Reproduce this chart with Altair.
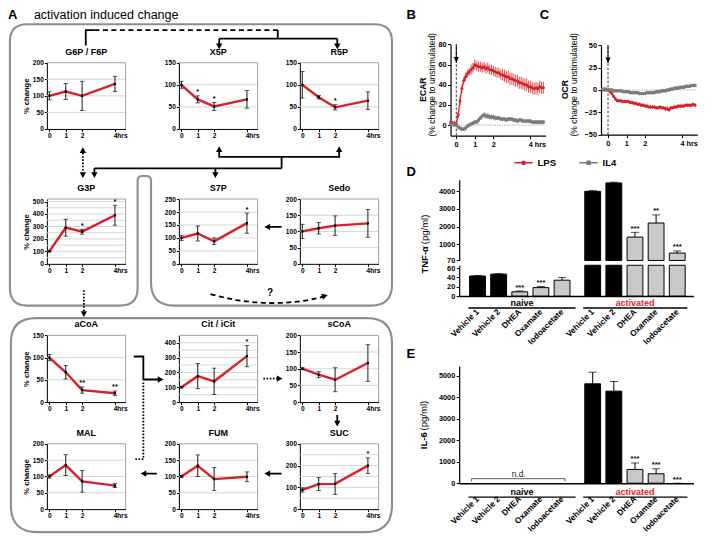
import json
import math
import altair as alt
import pandas as pd

# ============================================================ DATA
HOURS = [0, 1, 2, 4]

G6P_MEAN = [100, 113, 100, 136]
G6P_ERR = [12, 24, 44, 23]
G6P_SIG = ["", "", "", ""]
X5P_MEAN = [100, 67, 51, 67]
X5P_ERR = [8, 8, 9, 20]
X5P_SIG = ["", "*", "*", ""]
R5P_MEAN = [100, 72, 49, 64]
R5P_ERR = [30, 4, 6, 20]
R5P_SIG = ["", "", "*", ""]
G3P_MEAN = [100, 290, 258, 390]
G3P_ERR = [5, 68, 20, 80]
G3P_SIG = ["", "", "*", "*"]
S7P_MEAN = [100, 117, 87, 157]
S7P_ERR = [10, 29, 13, 39]
S7P_SIG = ["", "", "", "*"]
SEDO_MEAN = [100, 110, 118, 125]
SEDO_ERR = [22, 18, 30, 43]
SEDO_SIG = ["", "", "", ""]
ACOA_MEAN = [100, 67, 27, 20]
ACOA_ERR = [7, 15, 7, 5]
ACOA_SIG = ["", "", "**", "**"]
CIT_MEAN = [100, 175, 140, 310]
CIT_ERR = [5, 85, 89, 72]
CIT_SIG = ["", "", "", "*"]
SCOA_MEAN = [100, 82, 67, 117]
SCOA_ERR = [3, 9, 36, 55]
SCOA_SIG = ["", "", "", ""]
MAL_MEAN = [100, 135, 85, 72]
MAL_ERR = [5, 32, 33, 6]
MAL_SIG = ["", "", "", ""]
FUM_MEAN = [100, 133, 92, 99]
FUM_ERR = [3, 33, 35, 15]
FUM_SIG = ["", "", "", ""]
SUC_MEAN = [88, 115, 116, 200]
SUC_ERR = [10, 30, 48, 36]
SUC_SIG = ["", "", "", "*"]

A_PANELS = [
    ("G6P / F6P", G6P_MEAN, G6P_ERR, G6P_SIG, 200, [0, 50, 100, 150, 200]),
    ("X5P", X5P_MEAN, X5P_ERR, X5P_SIG, 150, [0, 50, 100, 150]),
    ("R5P", R5P_MEAN, R5P_ERR, R5P_SIG, 150, [0, 50, 100, 150]),
    ("G3P", G3P_MEAN, G3P_ERR, G3P_SIG, 520, [0, 100, 200, 300, 400, 500]),
    ("S7P", S7P_MEAN, S7P_ERR, S7P_SIG, 250, [0, 50, 100, 150, 200, 250]),
    ("Sedo", SEDO_MEAN, SEDO_ERR, SEDO_SIG, 200, [0, 50, 100, 150, 200]),
    ("aCoA", ACOA_MEAN, ACOA_ERR, ACOA_SIG, 150, [0, 50, 100, 150]),
    ("Cit / iCit", CIT_MEAN, CIT_ERR, CIT_SIG, 450, [0, 100, 200, 300, 400]),
    ("sCoA", SCOA_MEAN, SCOA_ERR, SCOA_SIG, 200, [0, 50, 100, 150, 200]),
    ("MAL", MAL_MEAN, MAL_ERR, MAL_SIG, 200, [0, 50, 100, 150, 200]),
    ("FUM", FUM_MEAN, FUM_ERR, FUM_SIG, 200, [0, 50, 100, 150, 200]),
    ("SUC", SUC_MEAN, SUC_ERR, SUC_SIG, 300, [0, 100, 200, 300]),
]

SEA_TIME = [-0.3, -0.2, -0.1, 0.0, 0.1, 0.2, 0.3, 0.4, 0.5, 0.6,
            0.7, 0.8, 0.9, 1.0, 1.1, 1.2, 1.3, 1.4, 1.5, 1.6,
            1.7, 1.8, 1.9, 2.0, 2.1, 2.2, 2.3, 2.4, 2.5, 2.6,
            2.7, 2.8, 2.9, 3.0, 3.1, 3.2, 3.3, 3.4, 3.5, 3.6,
            3.7, 3.8, 3.9, 4.0, 4.1, 4.2, 4.3, 4.4, 4.5, 4.6,
            4.7]
ECAR_LPS = [3, 2, 2, 1, 10, 24, 36, 44, 48, 51,
            53, 55, 57, 60, 59, 58, 58, 57, 58, 56,
            57, 55, 55, 54, 53, 52, 52, 50, 50, 49,
            48, 48, 46, 46, 45, 44, 44, 42, 42, 41,
            40, 40, 38, 38, 37, 36, 37, 36, 38, 37,
            37]
ECAR_LPS_ERR = [2, 2, 2, 2, 3, 4, 4, 4, 4, 4,
                4, 5, 5, 5, 5, 5, 5, 5, 5, 5,
                5, 5, 5, 5, 5, 5, 5, 5, 6, 6,
                6, 6, 6, 6, 6, 6, 6, 6, 6, 6,
                6, 6, 6, 6, 6, 6, 6, 6, 6, 6,
                6]
ECAR_IL4 = [1, 1, 0, 0, -2, -3, -4, -4, -3, -1,
            0, 1, 2, 3, 3, 5, 7, 9, 10, 9,
            9, 8, 8, 8, 7, 7, 7, 6, 6, 6,
            5, 6, 6, 6, 5, 5, 4, 5, 5, 4,
            4, 4, 4, 4, 3, 3, 3, 3, 3, 3,
            3]
ECAR_IL4_ERR = [1.5, 1.5, 1.5, 1.5, 2, 2, 2, 2, 2, 2,
                2, 2, 2, 2, 2, 2, 2, 2, 3, 3,
                3, 2.5, 2.5, 2.5, 2.5, 2, 2, 2, 2, 2,
                2, 2, 2, 2, 2, 2, 2, 2, 2, 2,
                2, 2, 2, 2, 2, 2, 2, 2, 2, 2,
                2]
OCR_LPS = [0, 0, 0, 0, -2, -4, -7, -10, -12, -12,
           -12, -13, -13, -13, -13, -14, -14, -15, -15, -16,
           -16, -17, -17, -18, -18, -19, -19, -19, -19, -20,
           -20, -19, -20, -20, -21, -21, -22, -20, -20, -19,
           -19, -18, -18, -18, -18, -17, -17, -17, -17, -16,
           -17]
OCR_LPS_ERR = [1.5, 1.5, 1.5, 1.5, 1.5, 2, 2, 2, 2, 2,
               2, 2, 2, 2, 2, 2, 2, 2, 2, 2,
               2, 2, 2, 2, 2, 2, 2, 2, 2, 2,
               2, 2, 2, 2, 2.5, 2.5, 2.5, 2, 2, 2,
               2, 2, 2, 2, 2, 2, 2, 2, 2, 2,
               2]
OCR_IL4 = [1, 1, 1, 0, 0, 0, -1, -1, -1, -1,
           -1, -2, -2, -2, -2, -3, -3, -3, -3, -3,
           -4, -4, -4, -4, -3, -3, -3, -3, -3, -2,
           -2, -2, -1, -1, -1, 0, 0, 1, 1, 2,
           2, 2, 3, 3, 3, 4, 4, 4, 5, 5,
           5]
OCR_IL4_ERR = [1.5, 1.5, 1.5, 1.5, 1.5, 1.5, 1.5, 1.5, 1.5, 1.5,
               1.5, 1.5, 1.5, 1.5, 2, 2, 2, 2, 2, 2,
               2, 2, 2, 2, 2, 2, 2, 2, 2, 2,
               2, 2, 2, 2, 2, 2, 2, 2, 2, 2,
               2, 2, 2, 2, 2, 2, 2, 2, 2, 2,
               2]
for _s in (ECAR_LPS, ECAR_LPS_ERR, ECAR_IL4, ECAR_IL4_ERR, OCR_LPS, OCR_LPS_ERR, OCR_IL4, OCR_IL4_ERR):
    assert len(_s) == len(SEA_TIME)

TREATMENTS = ["Vehicle 1", "Vehicle 2", "DHEA", "Oxamate", "Iodoacetate"]
GROUPS = ["naive", "activated"]
TNF_NAIVE = [43, 47, 9, 18, 34]
TNF_NAIVE_ERR = [1, 1, 1.5, 2.5, 6]
TNF_NAIVE_SIG = ["", "", "***", "***", ""]
TNF_ACT = [4000, 4480, 1400, 2200, 490]
TNF_ACT_ERR = [40, 40, 270, 460, 120]
TNF_ACT_SIG = ["", "", "***", "**", "***"]
IL6_NAIVE = [None, None, None, None, None]   # n.d.
IL6_ACT = [4620, 4280, 640, 440, 0]
IL6_ACT_ERR = [540, 450, 300, 230, 0]
IL6_ACT_SIG = ["", "", "***", "***", "***"]

# ============================================================ LAYOUT
S = 0.96
W, H = 694, 534


def cx(X):
    return (X - 2.0) * S


def cy(Y):
    return (Y - 3.0) * S


ONE = pd.DataFrame({"k": [0]})
RED_A = "#d7202a"
RED_B = "#d42229"
GRAY_B = "#7b7b7b"
GRID_C = "#d3d3d3"
FRAME_C = "#8a8a8a"
BOX_C = "#8e8e8e"
ACT_RED = "#e3222b"

A_COLS = [(42.5, 124.5), (180, 262), (306, 388)]
A_ROWS = [(60, 129), (202, 269.5), (344, 413.5), (457, 525)]
A_XDOM = [-0.15, 4.65]

AX_A = dict(grid=False, domainColor="black", domainWidth=1, tickColor="black", tickWidth=1,
            tickSize=2.5, labelColor="black", labelFontSize=6.6, labelFontWeight="bold",
            labelPadding=1, labelFlush=False, labelOverlap=False)
AX_B = dict(grid=False, domainColor="black", domainWidth=1.2, tickColor="black", tickWidth=1,
            tickSize=3, labelColor="black", labelFontSize=7.3, labelFontWeight="bold",
            labelPadding=1.5, labelFlush=False, labelOverlap=False)


def a_panel(i, title, mean, err, sig, ymax, labels):
    col, row = i % 3, i // 3
    xl, xr = A_COLS[col]
    yt, yb = A_ROWS[row]
    X0, X1, Y0, Y1 = cx(xl), cx(xr), cy(yt), cy(yb)
    df = pd.DataFrame({"t": HOURS, "m": mean,
                       "lo": [m - e for m, e in zip(mean, err)],
                       "hi": [m + e for m, e in zip(mean, err)],
                       "sig": sig})
    xs = alt.Scale(domain=A_XDOM, range=[X0, X1], nice=False, zero=False)
    ys = alt.Scale(domain=[0, ymax], range=[Y1, Y0], nice=False, zero=False)
    xa = alt.Axis(orient="bottom", offset=Y1 - H, values=HOURS, title=None,
                  labelExpr="datum.value == 4 ? '4hrs' : datum.label",
                  labelAlign="left", labelOffset=-1.8, **AX_A)
    if col == 0:
        ya = alt.Axis(orient="left", offset=-X0, values=labels, title="% change", format="d",
                      titleFontSize=7.6, titleFontWeight="bold", titleColor="black",
                      titlePadding=2, **AX_A)
    else:
        ya = alt.Axis(orient="left", offset=-X0, values=labels, title=None, format="d", **AX_A)

    def x(f):
        return alt.X(f, type="quantitative", scale=xs, axis=xa)

    def y(f):
        return alt.Y(f, type="quantitative", scale=ys, axis=ya)

    def xd(v):
        return alt.XDatum(v, type="quantitative", scale=xs, axis=xa)

    def yd(v):
        return alt.YDatum(v, type="quantitative", scale=ys, axis=ya)

    grid_df = pd.DataFrame({"g": list(range(50, ymax, 50))})
    base = alt.Chart(df)
    layers = [
        alt.Chart(grid_df).mark_rule(color=GRID_C, strokeWidth=0.9).encode(
            y=y("g"), x=xd(A_XDOM[0]), x2=alt.X2Datum(A_XDOM[1])),
        alt.Chart(ONE).mark_rule(color=FRAME_C, strokeWidth=0.8).encode(
            y=yd(ymax), x=xd(A_XDOM[0]), x2=alt.X2Datum(A_XDOM[1])),
        alt.Chart(ONE).mark_rule(color=FRAME_C, strokeWidth=0.8).encode(
            x=xd(A_XDOM[1]), y=yd(0), y2=alt.Y2Datum(ymax)),
        base.mark_line(color=RED_A, strokeWidth=2.4).encode(x=x("t"), y=y("m")),
        base.mark_rule(color="black", strokeWidth=0.9).encode(x=x("t"), y=y("lo"), y2=alt.Y2("hi")),
        base.mark_tick(color="black", orient="horizontal", size=4.5, thickness=0.9).encode(
            x=x("t"), y=y("lo")),
        base.mark_tick(color="black", orient="horizontal", size=4.5, thickness=0.9).encode(
            x=x("t"), y=y("hi")),
        base.mark_point(shape="square", filled=True, color="black", size=5, opacity=1).encode(
            x=x("t"), y=y("m")),
        base.mark_text(fontSize=7.5, fontWeight="bold", baseline="middle", dy=-3.5,
                       color="black").encode(x=x("t"), y=y("hi"), text="sig:N"),
        alt.Chart(ONE).mark_text(text=title, fontSize=9, fontWeight="bold", baseline="alphabetic",
                                 align="center", color="black").encode(
            x=alt.value((X0 + X1) / 2), y=alt.value(cy(yt - 8.4))),
    ]
    return alt.layer(*layers)


def ts_panel(rect, xdom, ydom, yvals, lps, lps_err, il4, il4_err, tip):
    xl, xr, yt, yb = rect
    X0, X1, Y0, Y1 = cx(xl), cx(xr), cy(yt), cy(yb)
    xs = alt.Scale(domain=xdom, range=[X0, X1], nice=False, zero=False)
    ys = alt.Scale(domain=ydom, range=[Y1, Y0], nice=False, zero=False)
    xa = alt.Axis(orient="bottom", offset=Y1 - H, values=HOURS, title=None,
                  labelExpr="datum.value == 4 ? '4 hrs' : datum.label",
                  labelAlign="left", labelOffset=-2.2, **AX_B)
    ya = alt.Axis(orient="left", offset=-X0, values=yvals, title=None, format="d", **AX_B)

    def x(f):
        return alt.X(f, type="quantitative", scale=xs, axis=xa)

    def y(f):
        return alt.Y(f, type="quantitative", scale=ys, axis=ya)

    def xd(v):
        return alt.XDatum(v, type="quantitative", scale=xs, axis=xa)

    def yd(v):
        return alt.YDatum(v, type="quantitative", scale=ys, axis=ya)

    layers = [
        alt.Chart(ONE).mark_rule(color="#9a9a9a", strokeDash=[1.2, 1.2], strokeWidth=0.9).encode(
            x=xd(0), x2=alt.X2Datum(xdom[1]), y=yd(0)),
        alt.Chart(ONE).mark_rule(color="#222", strokeDash=[2.5, 1.8], strokeWidth=0.9).encode(
            x=xd(0), y=yd(ydom[0]), y2=alt.Y2Datum(ydom[1])),
        alt.Chart(ONE).mark_rule(color="black", strokeWidth=1).encode(
            x=xd(0), y=yd(ydom[1]), y2=alt.Y2Datum(tip)),
        alt.Chart(ONE).mark_point(shape="M0,0 L-2.6,-5.5 L2.6,-5.5 Z", filled=True, color="black",
                                  size=4, opacity=1, strokeWidth=0).encode(x=xd(0), y=yd(tip)),
    ]
    for vals, errs, color, shape in ((lps, lps_err, RED_B, "circle"), (il4, il4_err, GRAY_B, "square")):
        df = pd.DataFrame({"t": SEA_TIME, "v": vals,
                           "lo": [v - e for v, e in zip(vals, errs)],
                           "hi": [v + e for v, e in zip(vals, errs)]})
        b = alt.Chart(df)
        layers += [
            b.mark_rule(color=color, strokeWidth=0.8).encode(x=x("t"), y=y("lo"), y2=alt.Y2("hi")),
            b.mark_line(color=color, strokeWidth=1.3).encode(x=x("t"), y=y("v")),
            b.mark_point(shape=shape, filled=True, color=color, size=9, opacity=1).encode(
                x=x("t"), y=y("v")),
        ]
    return alt.layer(*layers)


# ---- bars (D / E)
GROUP_SHIFT = 5.45
BAR_POS = [i for i in range(5)] + [i + GROUP_SHIFT for i in range(5)]
BAR_XDOM = [-0.63, 9.98]
BAR_X = (472, 716)
BARW = 16.5 * S
NAMES_JS = json.dumps(TREATMENTS)
BAR_LABEL_EXPR = f"{NAMES_JS}[round(datum.value >= 5 ? datum.value - {GROUP_SHIFT} : datum.value)]"


def bar_df(naive, naive_err, naive_sig, act, act_err, act_sig):
    vals = list(naive) + list(act)
    errs = list(naive_err) + list(act_err)
    return pd.DataFrame({
        "treat": TREATMENTS * 2,
        "group": ["naive"] * 5 + ["activated"] * 5,
        "pos": BAR_POS,
        "value": vals,
        "hi": [(v + e) if v is not None else None for v, e in zip(vals, errs)],
        "sig": list(naive_sig) + list(act_sig),
        "veh": [True, True, False, False, False] * 2,
    })


TNF_DF = bar_df(TNF_NAIVE, TNF_NAIVE_ERR, TNF_NAIVE_SIG, TNF_ACT, TNF_ACT_ERR, TNF_ACT_SIG)
IL6_DF = bar_df(IL6_NAIVE, [0] * 5, [""] * 5, IL6_ACT, IL6_ACT_ERR, IL6_ACT_SIG)


def bar_panel(df, yt, yb, ydom, yvals, base_val, bar_filter, err_filter, xaxis, clamp=False,
              group_y=None, extra=None):
    X0, X1, Y0, Y1 = cx(BAR_X[0]), cx(BAR_X[1]), cy(yt), cy(yb)
    xs = alt.Scale(domain=BAR_XDOM, range=[X0, X1], nice=False, zero=False)
    ys = alt.Scale(domain=ydom, range=[Y1, Y0], nice=False, zero=False, clamp=clamp)
    if xaxis:
        xa = alt.Axis(orient="bottom", offset=Y1 - H, values=BAR_POS, title=None,
                      labelExpr=BAR_LABEL_EXPR, labelAngle=-45, labelAlign="right",
                      labelBaseline="middle", labelPadding=14.5, ticks=False, grid=False,
                      domainColor="black", domainWidth=1.4, labelColor="black",
                      labelFontSize=8.3, labelFontWeight="bold", labelFlush=False,
                      labelOverlap=False)
    else:
        xa = None
    ya = alt.Axis(orient="left", offset=-X0, values=yvals, title=None, format="d", **AX_B)

    def x(f):
        if xa is None:
            return alt.X(f, type="quantitative", scale=xs, axis=None)
        return alt.X(f, type="quantitative", scale=xs, axis=xa)

    def y(f):
        return alt.Y(f, type="quantitative", scale=ys, axis=ya)

    def xd(v):
        if xa is None:
            return alt.XDatum(v, type="quantitative", scale=xs, axis=None)
        return alt.XDatum(v, type="quantitative", scale=xs, axis=xa)

    def yd(v):
        return alt.YDatum(v, type="quantitative", scale=ys, axis=ya)

    b = alt.Chart(df)
    layers = [
        b.transform_filter(bar_filter).mark_bar(size=BARW, stroke="black", strokeWidth=1).encode(
            x=x("pos"), y=y("value"), y2=alt.Y2Datum(base_val),
            fill=alt.condition("datum.veh", alt.value("black"), alt.value("#c9c9c9"))),
        b.transform_filter(err_filter).mark_rule(color="black", strokeWidth=1).encode(
            x=x("pos"), y=y("value"), y2=alt.Y2("hi")),
        b.transform_filter(err_filter).mark_tick(color="black", orient="horizontal", size=8,
                                                 thickness=1).encode(x=x("pos"), y=y("hi")),
        b.transform_filter(err_filter).mark_text(fontSize=7.5, fontWeight="bold", baseline="middle",
                                                 dy=-3.5, color="black").encode(
            x=x("pos"), y=y("hi"), text="sig:N"),
    ]
    if group_y is not None:
        ty, ly = group_y
        for lab, c, x1, x2, col in (("naive", 2.1, -0.43, 4.64, "black"),
                                     ("activated", 7.45, 5.0, 9.93, ACT_RED)):
            layers.append(alt.Chart(ONE).mark_rule(color="black", strokeWidth=1.3).encode(
                x=xd(x1), x2=alt.X2Datum(x2), y=alt.value(cy(ly))))
            layers.append(alt.Chart(ONE).mark_text(text=lab, fontSize=9, fontWeight="bold",
                                                   color=col, baseline="middle", align="center").encode(
                x=xd(c), y=alt.value(cy(ty))))
    if extra is not None:
        layers += extra(xd, yd)
    return alt.layer(*layers)


def nd_marks(xd, yd):
    return [
        alt.Chart(ONE).mark_rule(color="#333", strokeWidth=0.8).encode(
            x=xd(-0.28), x2=alt.X2Datum(4.14), y=yd(210)),
        alt.Chart(ONE).mark_rule(color="#333", strokeWidth=0.8).encode(
            x=xd(-0.28), y=yd(210), y2=alt.Y2Datum(80)),
        alt.Chart(ONE).mark_rule(color="#333", strokeWidth=0.8).encode(
            x=xd(4.14), y=yd(210), y2=alt.Y2Datum(80)),
        alt.Chart(ONE).mark_text(text="n.d.", fontSize=8.5, color="#222", baseline="middle",
                                 align="center").encode(x=xd(1.95), y=yd(440)),
    ]


# ---- decoration helpers (schematic boxes and arrows of panel A)
def P(X, Y):
    return f"{cx(X):.2f},{cy(Y):.2f}"


def poly(*pts):
    return "M" + " L".join(P(px, py) for px, py in pts)


def rounded(pts, radii):
    n = len(pts)
    corners = []
    for i in range(n):
        x0, y0 = pts[i]
        r = radii[i]
        px, py = pts[i - 1]
        nx, ny = pts[(i + 1) % n]
        d1 = math.hypot(px - x0, py - y0)
        d2 = math.hypot(nx - x0, ny - y0)
        a = (x0 + (px - x0) / d1 * r, y0 + (py - y0) / d1 * r)
        b = (x0 + (nx - x0) / d2 * r, y0 + (ny - y0) / d2 * r)
        corners.append((a, (x0, y0), b))
    d = "M" + P(*corners[0][2])
    for i in range(1, n + 1):
        a, c, b = corners[i % n]
        d += " L" + P(*a) + " Q" + P(*c) + " " + P(*b)
    return d + " Z"


def head(tip, direc, L=6.0, hw=3.3):
    x0, y0 = tip
    dx, dy = direc
    m = math.hypot(dx, dy)
    dx, dy = dx / m, dy / m
    bx, by = x0 - dx * L, y0 - dy * L
    return ("M" + P(x0, y0) + " L" + P(bx - dy * hw, by + dx * hw) + " L"
            + P(bx + dy * hw, by - dx * hw) + " Z")


def path_layer(d, stroke="black", width=1.8, dash=None, fill=None):
    if fill:
        kw = dict(shape=d, size=4, opacity=1, filled=True, color=fill, strokeWidth=0)
    else:
        kw = dict(shape=d, size=4, opacity=1, filled=False, color=stroke, stroke=stroke,
                  strokeWidth=width)
        if dash:
            kw["strokeDash"] = dash
    return alt.Chart(ONE).mark_point(**kw).encode(x=alt.value(0), y=alt.value(0))


def text_layer(txt, X, Y, size, weight="normal", align="left", baseline="middle", color="black",
               angle=None):
    kw = dict(text=txt, fontSize=size, fontWeight=weight, align=align, baseline=baseline,
              color=color)
    if angle is not None:
        kw["angle"] = angle
    return alt.Chart(ONE).mark_text(**kw).encode(x=alt.value(cx(X)), y=alt.value(cy(Y)))


TOP_BOX = rounded([(4, 20), (402, 20), (402, 313), (151, 313), (151, 178), (137, 178),
                   (137, 313), (4, 313)], [18, 18, 22, 24, 5, 5, 18, 18])
BOTTOM_BOX = rounded([(5, 326), (402, 326), (402, 549), (5, 549)], [26, 26, 28, 28])

SOLID = " ".join([
    poly((83, 42), (83, 26), (92, 26)),
    poly((283, 26), (283, 35)), poly((222, 35), (345, 35)),
    poly((222, 35), (222, 41)), poly((345, 35), (345, 41)),
    poly((222, 152), (222, 158), (347, 158), (347, 152)),
    poly((287, 158), (287, 170)), poly((92, 170), (287, 170)),
    poly((92, 170), (92, 175)), poly((218, 170), (218, 175)),
    poly((287, 231), (274, 231)),
    poly((133, 366), (143, 366), (143, 390), (159, 390)),
    poly((345, 427), (345, 434)),
    poly((287, 488), (274, 488)),
    poly((157, 488), (145, 488)),
])
DASHED = " ".join([
    poly((92, 26), (283, 26)),
    "M" + P(213, 301) + " Q" + P(273, 318) + " " + P(330, 304),
])
DOTTED = " ".join([
    poly((80, 154), (80, 174)),
    poly((81, 297), (81, 320)),
    poly((143, 393), (143, 473), (134, 473)),
    poly((268, 389), (283, 389)),
])
HEADS = " ".join([
    head((222, 46), (0, 1)), head((345, 46), (0, 1)),
    head((222, 147), (0, -1)), head((347, 147), (0, -1)),
    head((92, 180), (0, 1)), head((218, 180), (0, 1)),
    head((80, 148), (0, -1)), head((80, 180), (0, 1)),
    head((269, 231), (-1, 0)),
    head((335, 302), (1, -0.3)),
    head((81, 325), (0, 1)),
    head((164, 390), (1, 0)),
    head((288, 389), (1, 0)),
    head((345, 439), (0, 1)),
    head((269, 488), (-1, 0)),
    head((140, 488), (-1, 0)),
])

SYM_LPS = ("M-1.85,-0.15 L-0.45,-0.15 L-0.45,0.15 L-1.85,0.15 Z "
           "M0.45,-0.15 L1.85,-0.15 L1.85,0.15 L0.45,0.15 Z "
           "M-0.48,0 A0.48,0.48 0 1,0 0.48,0 A0.48,0.48 0 1,0 -0.48,0 Z")
SYM_IL4 = ("M-1.85,-0.15 L-0.45,-0.15 L-0.45,0.15 L-1.85,0.15 Z "
           "M0.45,-0.15 L1.85,-0.15 L1.85,0.15 L0.45,0.15 Z "
           "M-0.45,-0.45 L0.45,-0.45 L0.45,0.45 L-0.45,0.45 Z")
LEG = alt.Legend(title=None, orient="none", legendX=cx(538) - 5, legendY=cy(163) - 5,
                 direction="horizontal", labelFontSize=9.5, labelFontWeight="bold",
                 labelColor="black", symbolSize=100, labelOffset=8, columnPadding=22, padding=0)
legend_layer = alt.Chart(pd.DataFrame({"series": ["LPS", "IL4"]})).transform_filter(
    "false").mark_point(filled=True, opacity=1).encode(
    color=alt.Color("series:N", scale=alt.Scale(domain=["LPS", "IL4"], range=[RED_B, GRAY_B]),
                    legend=LEG),
    shape=alt.Shape("series:N", scale=alt.Scale(domain=["LPS", "IL4"], range=[SYM_LPS, SYM_IL4]),
                    legend=LEG))

# ============================================================ ASSEMBLY
layers = [
    path_layer(TOP_BOX, stroke=BOX_C, width=2.1),
    path_layer(BOTTOM_BOX, stroke=BOX_C, width=2.1),
]
for i, (t, m, e, s, ymax, labs) in enumerate(A_PANELS):
    layers.append(a_panel(i, t, m, e, s, ymax, labs))
layers += [
    path_layer(SOLID, stroke="black", width=1.8),
    path_layer(DASHED, stroke="black", width=1.8, dash=[5, 3.5]),
    path_layer(DOTTED, stroke="black", width=1.8, dash=[1.6, 1.6]),
    path_layer(HEADS, fill="black"),
    text_layer("?", 275, 300, 10, weight="bold", align="center"),
    text_layer("A", 2, 10, 13, weight="bold"),
    text_layer("activation induced change", 29, 10.5, 12.5),
    # panel B / C
    ts_panel((463, 562, 41, 136), [-0.31, 4.82], [-10.5, 80], [0, 20, 40, 60, 80],
             ECAR_LPS, ECAR_LPS_ERR, ECAR_IL4, ECAR_IL4_ERR, 62),
    ts_panel((619.7, 720, 41.7, 135), [-0.38, 4.82], [-50, 50], [-50, -25, 0, 25, 50],
             OCR_LPS, OCR_LPS_ERR, OCR_IL4, OCR_IL4_ERR, 30),
    text_layer("B", 417, 10, 13, weight="bold"),
    text_layer("C", 556, 10, 13, weight="bold"),
    text_layer("ECAR", 434, 88, 8.5, weight="bold", align="center", angle=270),
    text_layer("(% change to unstimulated)", 443.5, 83, 8.5, align="center", angle=270),
    text_layer("OCR", 582, 88, 8.5, weight="bold", align="center", angle=270),
    text_layer("(% change to unstimulated)", 591.5, 83, 8.5, align="center", angle=270),
    legend_layer,
    # panel D
    bar_panel(TNF_DF, 182, 266, [70, 4655], [70, 1000, 2000, 3000, 4000], 70,
              "datum.group == 'activated'", "datum.group == 'activated'", False),
    bar_panel(TNF_DF, 271, 303, [0, 66], [0, 20, 40, 60], 0,
              "true", "datum.group == 'naive'", True, clamp=True, group_y=(310, 315.5)),
    text_layer("D", 417, 174, 13, weight="bold"),
    text_layer("TNF-\u03b1", 436, 251, 9.5, weight="bold", align="right", angle=270),
    text_layer("(pg/ml)", 436, 249, 9.5, align="left", angle=270),
    # panel E
    bar_panel(IL6_DF, 376, 498, [0, 5446], [0, 1000, 2000, 3000, 4000, 5000], 0,
              "datum.group == 'activated' && datum.value > 0", "datum.group == 'activated'", True,
              group_y=(507, 512.5), extra=nd_marks),
    text_layer("E", 417, 363, 13, weight="bold"),
    text_layer("IL-6", 435, 445, 9.5, weight="bold", align="right", angle=270),
    text_layer("(pg/ml)", 435, 443, 9.5, align="left", angle=270),
]

chart = alt.layer(*layers).resolve_scale(x="independent", y="independent").properties(
    width=W, height=H, padding=0, autosize=alt.AutoSizeParams(type="none")
).configure(font="Liberation Sans").configure_view(strokeWidth=0)

chart.save("out.html", embed_options={"renderer": "svg", "actions": False})
